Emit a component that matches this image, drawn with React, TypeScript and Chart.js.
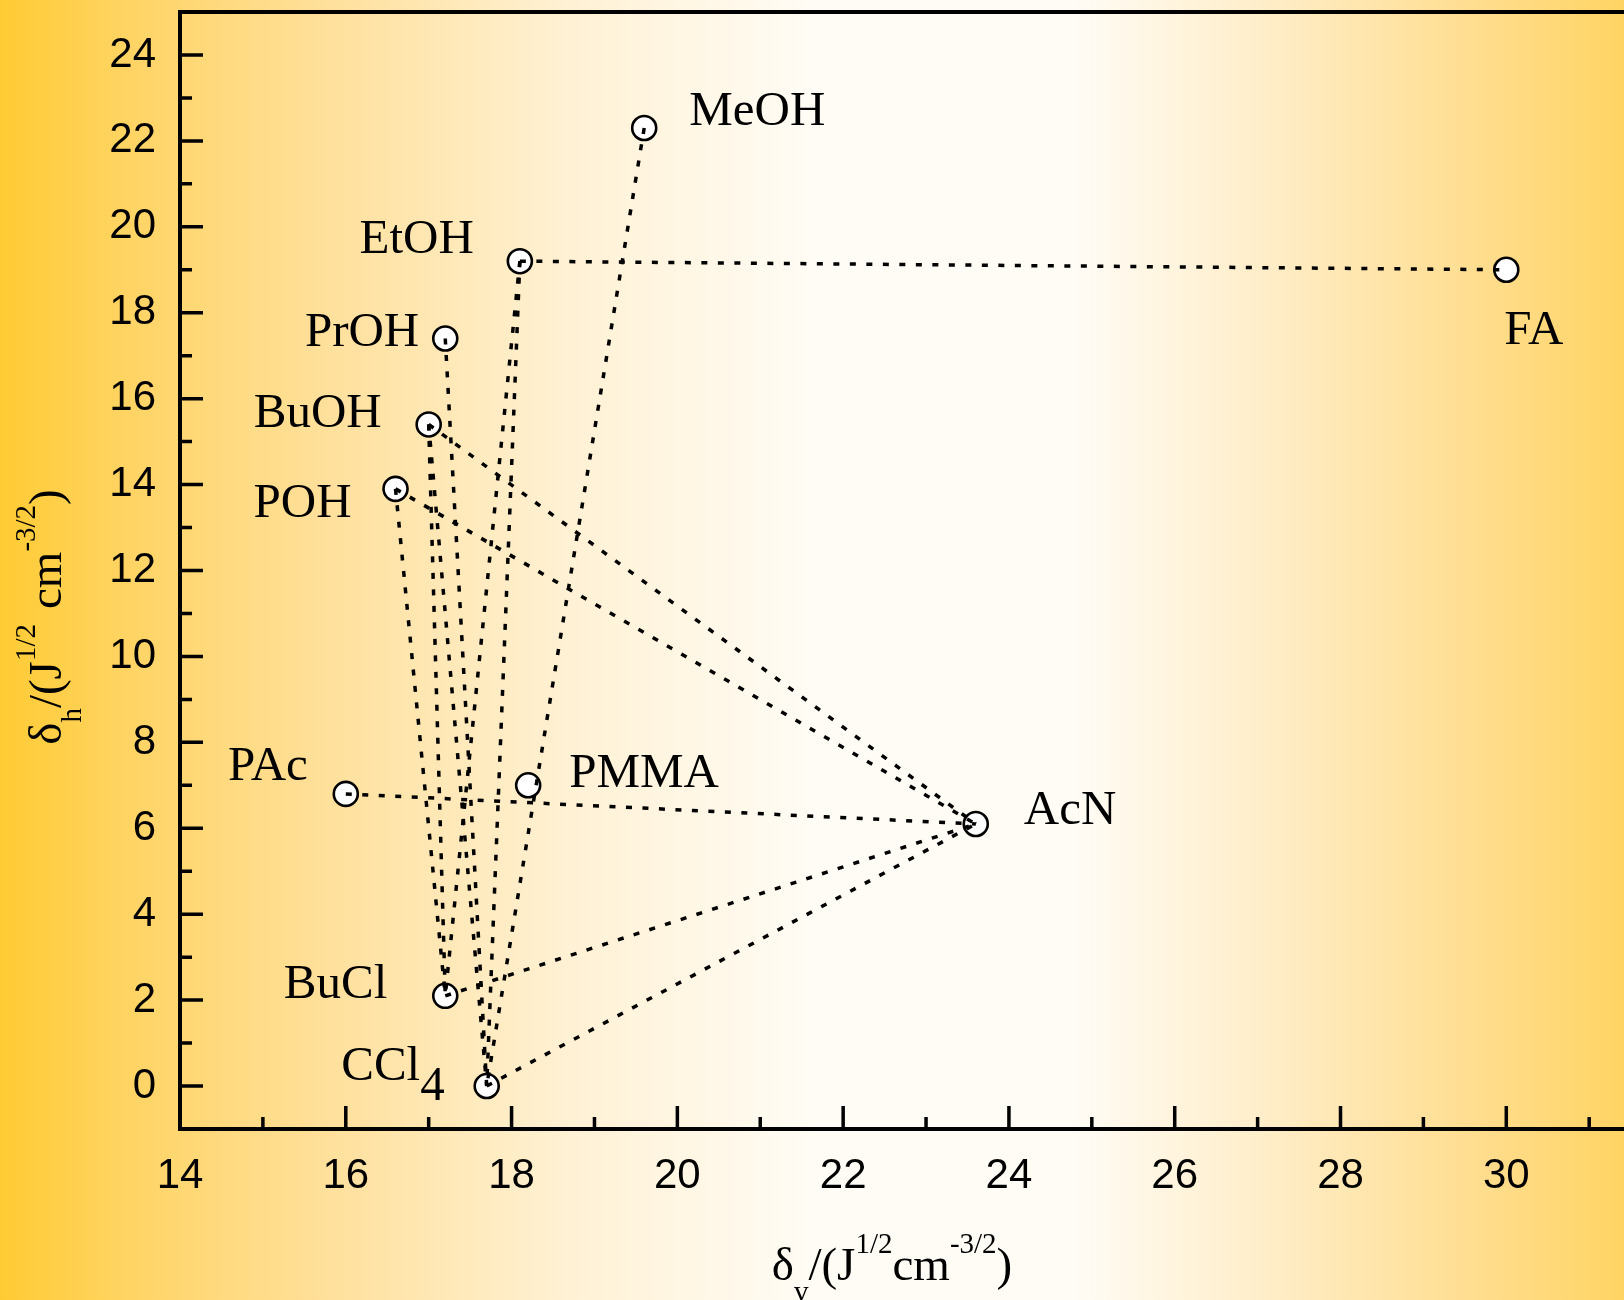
import React, { useEffect, useRef } from 'react';
import { Chart, registerables } from 'chart.js';
Chart.register(...registerables);

// ---- data ----
const solventNames = ['MeOH', 'EtOH', 'PrOH', 'BuOH', 'POH', 'PAc', 'PMMA', 'AcN', 'FA', 'BuCl', 'CCl4'];
const deltaV = [19.6, 18.1, 17.2, 17.0, 16.6, 16.0, 18.2, 23.6, 30.0, 17.2, 17.7];
const deltaH = [22.3, 19.2, 17.4, 15.4, 13.9, 6.8, 7.0, 6.1, 19.0, 2.1, 0.0];
const linkFrom = ['EtOH', 'MeOH', 'EtOH', 'EtOH', 'PrOH', 'BuOH', 'BuOH', 'POH', 'BuOH', 'POH', 'PAc', 'BuCl', 'CCl4'];
const linkTo = ['FA', 'CCl4', 'CCl4', 'BuCl', 'CCl4', 'CCl4', 'BuCl', 'BuCl', 'AcN', 'AcN', 'AcN', 'AcN', 'AcN'];
const xRange = [14, 31.42];
const yRange = [-1, 25];

// ---- label placement (pixels relative to the point) ----
const labelDx = [45, -46, -26, -47, -44, -38, 41, 48, -2, -58, -42];
const labelDy = [-3, -8, 7, 3, 28, -14, 2, 0, 74, 2, -6];
const labelAlign = ['left', 'right', 'right', 'right', 'right', 'right', 'left', 'left', 'left', 'right', 'right'];

const SERIF = '"Liberation Serif", "Times New Roman", serif';
const SANS = '"Liberation Sans", Arial, sans-serif';

type Part = { t: string; s: number; dy: number; gap?: number };

function drawRich(ctx: CanvasRenderingContext2D, parts: Part[], cx: number, base: number) {
  let total = 0;
  for (const p of parts) {
    ctx.font = `${p.s}px ${SERIF}`;
    total += ctx.measureText(p.t).width + (p.gap || 0);
  }
  let x = cx - total / 2;
  ctx.textAlign = 'left';
  ctx.textBaseline = 'alphabetic';
  for (const p of parts) {
    ctx.font = `${p.s}px ${SERIF}`;
    x += p.gap || 0;
    ctx.fillText(p.t, x, base + p.dy);
    x += ctx.measureText(p.t).width;
  }
}

const bgPlugin = {
  id: 'bgGrad',
  beforeDraw(chart: any) {
    const { ctx, width, height } = chart;
    const g = ctx.createLinearGradient(0, 0, width, 0);
    g.addColorStop(0, 'rgb(255,203,51)');
    g.addColorStop(0.08, 'rgb(255,212,100)');
    g.addColorStop(0.2, 'rgb(255,224,155)');
    g.addColorStop(0.35, 'rgb(255,241,212)');
    g.addColorStop(0.5, 'rgb(255,252,245)');
    g.addColorStop(0.66, 'rgb(255,252,246)');
    g.addColorStop(0.79, 'rgb(255,236,196)');
    g.addColorStop(0.92, 'rgb(255,220,138)');
    g.addColorStop(1, 'rgb(255,212,100)');
    ctx.save();
    ctx.fillStyle = g;
    ctx.fillRect(0, 0, width, height);
    ctx.restore();
  },
};

const framePlugin = {
  id: 'frame',
  afterDraw(chart: any) {
    const { ctx, chartArea: a, scales } = chart;
    const xs = scales.x;
    const ys = scales.y;
    ctx.save();
    ctx.strokeStyle = '#000';
    ctx.lineWidth = 4;
    ctx.lineCap = 'butt';
    // axes
    ctx.beginPath();
    ctx.moveTo(a.left, a.top);
    ctx.lineTo(chart.width, a.top);
    ctx.moveTo(a.left, a.top - 2);
    ctx.lineTo(a.left, a.bottom + 2);
    ctx.moveTo(a.left - 2, a.bottom);
    ctx.lineTo(chart.width, a.bottom);
    ctx.stroke();
    ctx.lineWidth = 3.5;
    ctx.beginPath();
    for (let v = Math.ceil(yRange[0]); v <= yRange[1]; v++) {
      const py = ys.getPixelForValue(v);
      if (py >= a.bottom - 1 || py <= a.top + 1) continue;
      const len = v % 2 === 0 ? 23 : 12;
      ctx.moveTo(a.left, py);
      ctx.lineTo(a.left + len, py);
    }
    for (let v = Math.ceil(xRange[0]); v <= xRange[1]; v++) {
      const px = xs.getPixelForValue(v);
      if (px <= a.left + 1) continue;
      const len = v % 2 === 0 ? 23 : 12;
      ctx.moveTo(px, a.bottom);
      ctx.lineTo(px, a.bottom - len);
    }
    ctx.stroke();

    // point labels
    ctx.fillStyle = '#000';
    ctx.textBaseline = 'alphabetic';
    for (let i = 0; i < solventNames.length; i++) {
      const px = xs.getPixelForValue(deltaV[i]) + labelDx[i];
      const py = ys.getPixelForValue(deltaH[i]) + labelDy[i];
      const name = solventNames[i];
      ctx.font = `49px ${SERIF}`;
      const m = name.match(/^(.*?)(\d+)$/);
      if (m) {
        const w1 = ctx.measureText(m[1]).width;
        const w2 = ctx.measureText(m[2]).width;
        const start = labelAlign[i] === 'right' ? px - w1 - w2 : px;
        ctx.textAlign = 'left';
        ctx.fillText(m[1], start, py);
        ctx.fillText(m[2], start + w1, py + 20);
      } else {
        ctx.textAlign = labelAlign[i] as CanvasTextAlign;
        ctx.fillText(name, px, py);
      }
    }

    // axis titles
    drawRich(
      ctx,
      [
        { t: 'δ', s: 47, dy: 0 },
        { t: 'v', s: 29, dy: 21 },
        { t: '/(J', s: 47, dy: 0 },
        { t: '1/2', s: 29, dy: -27 },
        { t: 'cm', s: 47, dy: 0 },
        { t: '-3/2', s: 29, dy: -27 },
        { t: ')', s: 47, dy: 0 },
      ],
      892,
      1280
    );
    ctx.save();
    ctx.translate(61, 617);
    ctx.rotate(-Math.PI / 2);
    drawRich(
      ctx,
      [
        { t: 'δ', s: 47, dy: 0 },
        { t: 'h', s: 29, dy: 20 },
        { t: '/(J', s: 47, dy: 0 },
        { t: '1/2', s: 29, dy: -26 },
        { t: 'cm', s: 47, dy: 0, gap: 15 },
        { t: '-3/2', s: 29, dy: -26 },
        { t: ')', s: 47, dy: 0 },
      ],
      0,
      0
    );
    ctx.restore();
    ctx.restore();
  },
};

export default function App() {
  const ref = useRef<HTMLCanvasElement | null>(null);
  useEffect(() => {
    document.body.style.margin = '0';
    const canvas = ref.current!;
    const idx = (n: string) => solventNames.indexOf(n);
    const lineSets = linkFrom.map((f, k) => {
      const a = idx(f);
      const b = idx(linkTo[k]);
      return {
        type: 'line' as const,
        data: [
          { x: deltaV[a], y: deltaH[a] },
          { x: deltaV[b], y: deltaH[b] },
        ],
        borderColor: '#000',
        borderWidth: 3.5,
        borderDash: [6, 10.5],
        borderCapStyle: 'butt',
        pointRadius: 0,
        fill: false,
        tension: 0,
        order: 0,
      };
    });
    const chart = new Chart(canvas, {
      type: 'scatter',
      data: {
        datasets: [
          {
            type: 'scatter',
            data: deltaV.map((x, i) => ({ x, y: deltaH[i] })),
            pointRadius: 12,
            pointBorderWidth: 2.6,
            pointBackgroundColor: '#fff',
            pointBorderColor: '#000',
            order: 1,
          } as any,
          ...(lineSets as any[]),
        ],
      },
      options: {
        animation: false,
        responsive: false,
        devicePixelRatio: 1,
        layout: { autoPadding: false, padding: { top: 12, left: 0, right: 0, bottom: 0 } },
        plugins: { legend: { display: false }, tooltip: { enabled: false } },
        scales: {
          x: {
            type: 'linear',
            position: 'bottom',
            min: xRange[0],
            max: xRange[1],
            border: { display: false },
            grid: { display: false, drawTicks: false },
            ticks: {
              stepSize: 1,
              includeBounds: false,
              autoSkip: false,
              maxRotation: 0,
              padding: 22,
              color: '#000',
              font: { family: SANS, size: 42 },
              callback: (v: any) => (Number(v) % 2 === 0 ? String(v) : ''),
            },
            afterFit: (s: any) => {
              s.height = 171;
              s.paddingLeft = 0;
              s.paddingRight = 0;
            },
          },
          y: {
            type: 'linear',
            position: 'left',
            min: yRange[0],
            max: yRange[1],
            border: { display: false },
            grid: { display: false, drawTicks: false },
            ticks: {
              stepSize: 1,
              includeBounds: false,
              autoSkip: false,
              padding: 24,
              color: '#000',
              font: { family: SANS, size: 42 },
              callback: (v: any) => (Number(v) % 2 === 0 ? String(v) : ''),
            },
            afterFit: (s: any) => {
              s.width = 180;
              s.paddingTop = 0;
              s.paddingBottom = 0;
            },
          },
        },
      },
      plugins: [bgPlugin, framePlugin],
    });
    return () => chart.destroy();
  }, []);
  return (
    <div style={{ position: 'absolute', left: 0, top: 0 }}>
      <canvas ref={ref} width={1624} height={1300} style={{ width: 1624, height: 1300, display: 'block' }} />
    </div>
  );
}
